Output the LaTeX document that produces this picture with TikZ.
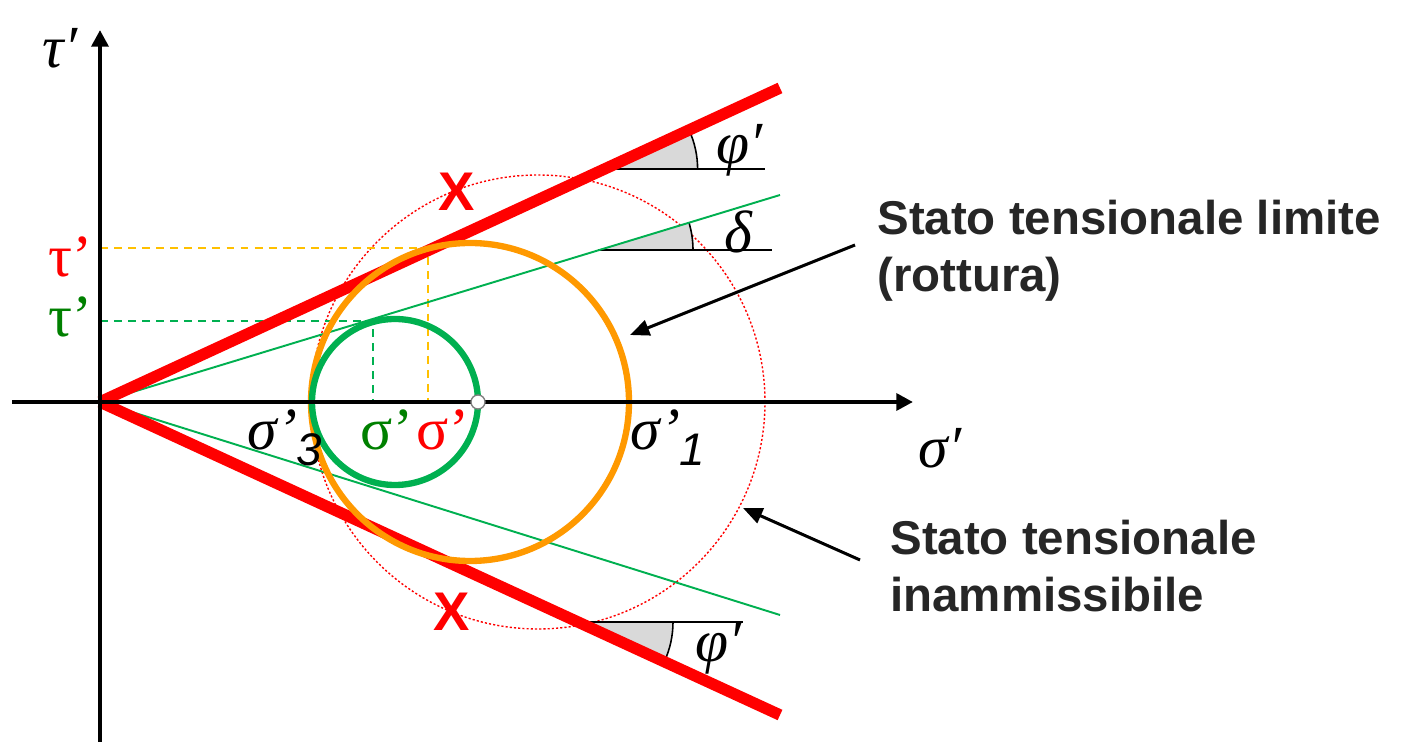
\documentclass[tikz,border=0pt]{standalone}
\usepackage{fontspec}
\setmainfont{Liberation Serif}
\newfontfamily\arial{Liberation Sans}
\usetikzlibrary{arrows.meta}
\definecolor{cred}{RGB}{255,0,0}
\definecolor{corange}{RGB}{255,153,0}
\definecolor{cgreen}{RGB}{0,176,80}
\definecolor{cdgreen}{RGB}{0,128,0}
\definecolor{cyellow}{RGB}{255,192,0}
\definecolor{cgray}{RGB}{217,217,217}
\definecolor{ctext}{RGB}{38,38,38}
\tikzset{
  axisline/.style={line width=2.6pt,-{Triangle[length=9.5pt,width=9.5pt]}},
  redline/.style={line width=6.5pt,cred},
  greenline/.style={line width=1.1pt,cgreen},
  orangec/.style={line width=3.6pt,corange},
  greenc/.style={line width=3.6pt,cgreen},
  reddot/.style={line width=0.8pt,cred,dash pattern=on 1.2pt off 1.2pt},
  ydash/.style={line width=1.1pt,cyellow,dash pattern=on 4.5pt off 3.5pt},
  gdash/.style={line width=1.1pt,cgreen,dash pattern=on 4.5pt off 3.5pt},
  hline/.style={line width=1.1pt,black},
  arcline/.style={line width=0.9pt,black},
  wedge/.style={fill=cgray},
  note/.style={line width=1.7pt,-{Triangle[length=11pt,width=9pt]}},
  bigtxt/.style={font=\arial\bfseries\fontsize{27}{32.5}\selectfont,text=ctext,align=left,inner sep=0pt},
  mlab/.style={inner sep=0pt,font=\itshape\fontsize{34}{40}\selectfont},
  slab/.style={inner sep=0pt,font=\fontsize{34}{40}\selectfont},
  xmark/.style={inner sep=0pt,text=cred,font=\arial\bfseries\fontsize{31}{36}\selectfont},
}
\begin{document}
\begin{tikzpicture}[x=0.02cm,y=0.02cm]
\useasboundingbox (0,0) rectangle (1407,-742);
\coordinate (O) at (100,-402);
\coordinate (Rup) at (780,-88);
\coordinate (Rlo) at (780,-715);
\coordinate (Gup) at (780,-195);
\coordinate (Glo) at (780,-615);
% dotted circle
\draw[reddot] (538,-402) circle (227);
% dashed projections
\coordinate (TY) at (100,-248);
\coordinate (PY) at (428,-248);
\coordinate (SY) at (428,-402);
\coordinate (TG) at (100,-321);
\coordinate (PG) at (373,-321);
\coordinate (SG) at (373,-402);
\draw[ydash] (TY) -- (PY) -- (SY);
\draw[gdash] (TG) -- (PG) -- (SG);
% angle marks
\coordinate (V1) at (604.6,-169);
\fill[wedge] (V1) -- ++(93,0) arc[start angle=0,end angle=24.79,radius=93] -- cycle;
\draw[arcline] (V1) ++(93,0) arc[start angle=0,end angle=24.79,radius=93];
\coordinate (H1) at (765,-169);
\draw[hline] (V1) -- (H1);
\coordinate (V2) at (598,-250);
\fill[wedge] (V2) -- ++(95,0) arc[start angle=0,end angle=17.0,radius=95] -- cycle;
\draw[arcline] (V2) ++(95,0) arc[start angle=0,end angle=17.0,radius=95];
\coordinate (H2) at (772,-250);
\draw[hline] (V2) -- (H2);
\coordinate (V3) at (578,-622);
\fill[wedge] (V3) -- ++(95,0) arc[start angle=0,end angle=-24.72,radius=95] -- cycle;
\draw[arcline] (V3) ++(95,0) arc[start angle=0,end angle=-24.72,radius=95];
\coordinate (H3) at (743,-622);
\draw[hline] (V3) -- (H3);
% envelope lines
\draw[greenline] (O) -- (Gup);
\draw[greenline] (O) -- (Glo);
\draw[redline] (O) -- (Rup);
\draw[redline] (O) -- (Rlo);
% circles
\draw[orangec] (470,-402) circle (159);
\draw[greenc] (395,-402) circle (83);
% axes
\coordinate (Ybot) at (100,-742);
\coordinate (Ytop) at (100,-30);
\coordinate (Xl) at (12,-402);
\coordinate (Xr) at (913,-402);
\draw[axisline] (Ybot) -- (Ytop);
\draw[axisline] (Xl) -- (Xr);
\node[circle,fill=white,draw=gray,line width=0.8pt,minimum size=8pt,inner sep=0pt] (S1g) at (478,-402) {};
% labels
\node[mlab] (tauax) at (60,-48) {τ′};
\node[mlab] (sigax) at (940,-448) {σ′};
\node[slab,anchor=base] (sig3) at (285,-450) {\itshape σ’\raisebox{-9pt}{\arial\itshape\fontsize{26}{30}\selectfont 3}};
\node[slab,anchor=base] (sig1) at (668,-450) {\itshape σ’\raisebox{-9pt}{\arial\itshape\fontsize{26}{30}\selectfont 1}};
\node[slab,anchor=base,text=cdgreen] (sigg) at (387,-450) {σ’};
\node[slab,anchor=base,text=cred] (sigr) at (443,-450) {σ’};
\node[slab,anchor=base,text=cred] (taur) at (70,-277) {τ’};
\node[slab,anchor=base,text=cdgreen] (taug) at (70,-337) {τ’};
\node[xmark] (X1) at (457,-192) {X};
\node[xmark] (X2) at (452,-612) {X};
\node[mlab] (phi1) at (740,-150) {φ′};
\node[mlab] (del) at (738,-232) {δ};
\node[mlab] (phi2) at (719,-648) {φ′};
% notes
\node[bigtxt,anchor=north west] (T1) at (877,-200) {Stato tensionale limite\\(rottura)};
\node[bigtxt,anchor=north west] (T2) at (890,-520) {Stato tensionale\\inammissibile};
\coordinate (A1s) at (855,-245);
\coordinate (A1e) at (630,-335);
\coordinate (A2s) at (860,-560);
\coordinate (A2e) at (743,-508);
\draw[note] (A1s) -- (A1e);
\draw[note] (A2s) -- (A2e);
\end{tikzpicture}
\end{document}
